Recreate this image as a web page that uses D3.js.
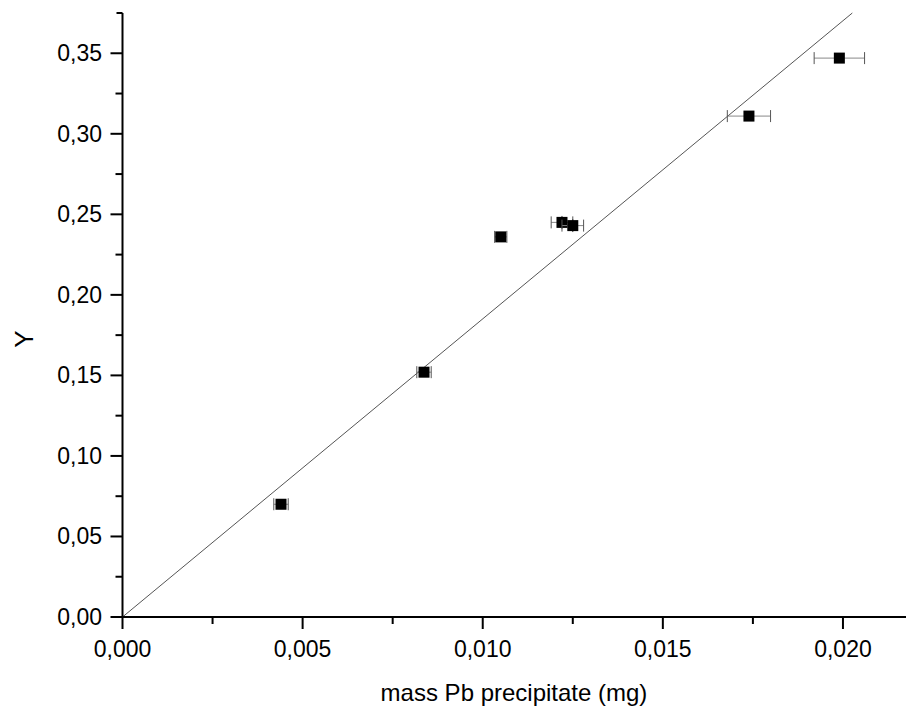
<!DOCTYPE html>
<html>
<head>
<meta charset="utf-8">
<script src="https://cdn.jsdelivr.net/npm/d3@7"></script>
<style>
  body { margin: 0; background: #fff; }
  svg text { font-family: "Liberation Sans", Arial, sans-serif; fill: #000; }
</style>
</head>
<body>
<svg id="chart" width="906" height="709"></svg>
<script>
// measured points (mass Pb in mg, Y)
const massPb = [0.0044, 0.00837, 0.0105, 0.0122, 0.0125, 0.01739, 0.0199];
const yValues = [0.070, 0.152, 0.236, 0.245, 0.243, 0.311, 0.347];
const massErr = [0.0002, 0.0002, 0.00017, 0.0003, 0.0003, 0.0006, 0.0007];
const yErr = [0, 0, 0, 0.004, 0.004, 0, 0];
const fitSlope = 18.51;
const xTicks = [0, 0.005, 0.01, 0.015, 0.02];
const yTicks = [0, 0.05, 0.1, 0.15, 0.2, 0.25, 0.3, 0.35];

const svg = d3.select("#chart");
const comma = (f) => (d) => d3.format(f)(d).replace(".", ",");

const x = d3.scaleLinear().domain([0, 0.02175]).range([122.5, 906]);
const y = d3.scaleLinear().domain([0, 0.375]).range([617, 13]);

// fit line through origin
const xEnd = 0.375 / fitSlope;
svg.append("line")
  .attr("x1", x(0)).attr("y1", y(0))
  .attr("x2", x(xEnd)).attr("y2", y(fitSlope * xEnd))
  .attr("stroke", "#555")
  .attr("stroke-width", 1);

// axes
const minorX = d3.range(0.0025, 0.0216, 0.005);
const minorY = d3.range(0.025, 0.37, 0.05);

const xAxis = svg.append("g").attr("transform", "translate(0,617)");
xAxis.append("line")
  .attr("x1", x(0) - 1).attr("x2", 906)
  .attr("stroke", "#000").attr("stroke-width", 2);
xAxis.selectAll(".maj").data(xTicks).enter().append("line")
  .attr("x1", (d) => x(d)).attr("x2", (d) => x(d))
  .attr("y1", 0).attr("y2", 12)
  .attr("stroke", "#000").attr("stroke-width", 2);
xAxis.selectAll(".min").data(minorX).enter().append("line")
  .attr("x1", (d) => x(d)).attr("x2", (d) => x(d))
  .attr("y1", 0).attr("y2", 7)
  .attr("stroke", "#000").attr("stroke-width", 2);
xAxis.selectAll("text").data(xTicks).enter().append("text")
  .attr("x", (d) => x(d))
  .attr("y", 40)
  .attr("text-anchor", "middle")
  .attr("font-size", 23)
  .text(comma(".3f"));

const yAxis = svg.append("g");
yAxis.append("line")
  .attr("x1", x(0)).attr("x2", x(0))
  .attr("y1", y(0.375)).attr("y2", 618)
  .attr("stroke", "#000").attr("stroke-width", 2);
yAxis.append("line")
  .attr("x1", x(0) - 6).attr("x2", x(0))
  .attr("y1", y(0.375)).attr("y2", y(0.375))
  .attr("stroke", "#000").attr("stroke-width", 2);
yAxis.selectAll(".maj").data(yTicks).enter().append("line")
  .attr("x1", x(0) - 12).attr("x2", x(0))
  .attr("y1", (d) => y(d)).attr("y2", (d) => y(d))
  .attr("stroke", "#000").attr("stroke-width", 2);
yAxis.selectAll(".min").data(minorY).enter().append("line")
  .attr("x1", x(0) - 7).attr("x2", x(0))
  .attr("y1", (d) => y(d)).attr("y2", (d) => y(d))
  .attr("stroke", "#000").attr("stroke-width", 2);
yAxis.selectAll("text").data(yTicks).enter().append("text")
  .attr("x", 102)
  .attr("y", (d) => y(d) + 8)
  .attr("text-anchor", "end")
  .attr("font-size", 23)
  .text(comma(".2f"));

// axis titles
svg.append("text")
  .attr("x", 514).attr("y", 701)
  .attr("text-anchor", "middle")
  .attr("font-size", 24)
  .text("mass Pb precipitate (mg)");
svg.append("text")
  .attr("transform", "translate(33,339) rotate(-90)")
  .attr("text-anchor", "middle")
  .attr("font-size", 26)
  .text("Y");

// points with error bars
const pts = massPb.map((m, i) => ({ m, v: yValues[i], ex: massErr[i], ey: yErr[i] }));
const pt = svg.selectAll(".pt").data(pts).enter().append("g");

pt.append("line")
  .attr("x1", (d) => x(d.m - d.ex)).attr("x2", (d) => x(d.m + d.ex))
  .attr("y1", (d) => y(d.v)).attr("y2", (d) => y(d.v))
  .attr("stroke", "#888").attr("stroke-width", 1);
pt.selectAll(".cap")
  .data((d) => [d.m - d.ex, d.m + d.ex].map((c) => ({ c, v: d.v })))
  .enter().append("line")
  .attr("x1", (d) => x(d.c)).attr("x2", (d) => x(d.c))
  .attr("y1", (d) => y(d.v) - 6).attr("y2", (d) => y(d.v) + 6)
  .attr("stroke", "#555").attr("stroke-width", 1);
pt.filter((d) => d.ey > 0).append("line")
  .attr("x1", (d) => x(d.m)).attr("x2", (d) => x(d.m))
  .attr("y1", (d) => y(d.v + d.ey)).attr("y2", (d) => y(d.v - d.ey))
  .attr("stroke", "#333").attr("stroke-width", 1);
pt.append("rect")
  .attr("x", (d) => x(d.m) - 5.5)
  .attr("y", (d) => y(d.v) - 5.5)
  .attr("width", 11).attr("height", 11)
  .attr("fill", "#000");
</script>
</body>
</html>
